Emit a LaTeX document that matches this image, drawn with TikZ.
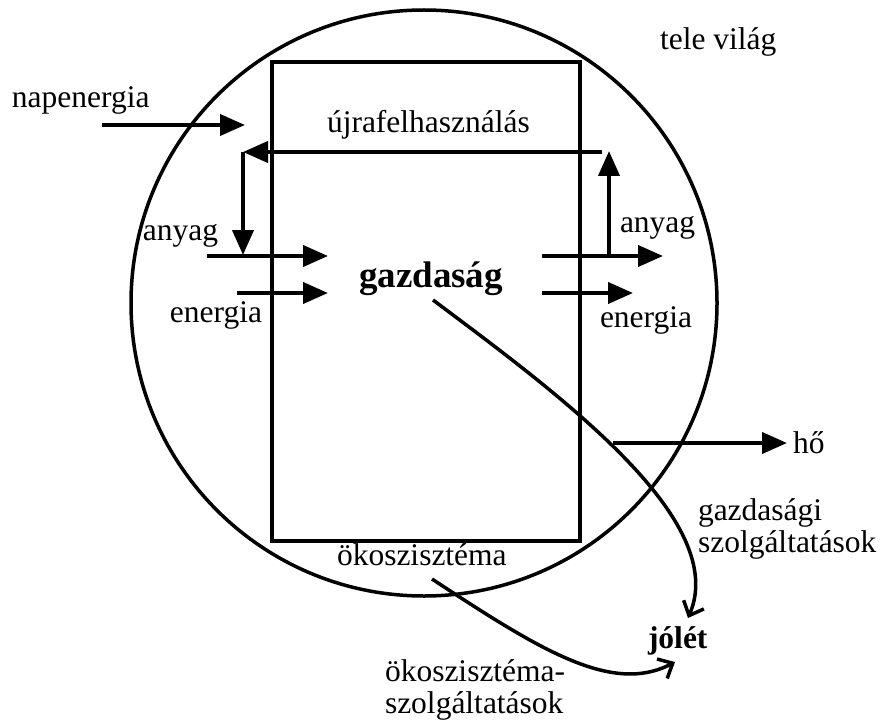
\documentclass[tikz,border=0pt]{standalone}
\usepackage{fontspec}
\setmainfont{Liberation Serif}
\usetikzlibrary{arrows.meta, positioning}

\begin{document}
\begin{tikzpicture}[
    x=1pt, y=-1pt,
    every node/.style={
        inner sep=0pt,
        outer sep=0pt,
        font=\fontsize{31.5}{32}\selectfont
    },
    frame/.style={draw, line width=3.5pt},
    arrow/.style={-{Triangle[length=25pt, width=21pt]}, line width=4pt},
    flow/.style={-{Straight Barb[length=12pt, width=22pt]}, line width=3.5pt}
]
\useasboundingbox (0,0) rectangle (880,722);

% --- World and economy ---
\node[frame, circle, minimum size=586pt] (world) at (424,303) {};
\node[frame, minimum width=308pt, minimum height=479pt] (econ) at (426,301.5) {};

% --- Labels ---
\node[anchor=base west] (tele) at (660,50) {tele világ};
\node[anchor=base west] (napen) at (12,108) {napenergia};
\node[anchor=base west] (ujra) at (327,133) {újrafelhasználás};
\node[anchor=base east] (anyagbe) at (218,240) {anyag};
\node[anchor=base east] (energiabe) at (262,322) {energia};
\node[anchor=base, font=\fontsize{37}{40}\selectfont\bfseries] (gazd) at (431,287) {gazdaság};
\node[anchor=base west] (anyagki) at (620,232) {anyag};
\node[anchor=base west] (energiaki) at (600,327) {energia};
\node[anchor=base west] (ho) at (793,453) {hő};
\node[anchor=base west, align=left] (gszolg) at (698,552) {gazdasági\\szolgáltatások};
\node[anchor=base west] (oko) at (337,565) {ökoszisztéma};
\node[anchor=base west, font=\fontsize{31.5}{32}\selectfont\bfseries] (jolet) at (648,648) {jólét};
\node[anchor=base west, align=left] (okoszolg) at (385,713) {ökoszisztéma-\\szolgáltatások};

% --- Arrow ends ---
\coordinate (sunA) at (102,125);
\coordinate (sunB) at (245,125);
\coordinate (recR) at (602,152);
\coordinate (recL) at (243,152);
\coordinate (recD) at (243,255);
\coordinate (upS) at (609,256);
\coordinate (upT) at (609,151);
\coordinate (inA) at (207,256);
\coordinate (inAt) at (328,256);
\coordinate (inE) at (237,293);
\coordinate (inEt) at (328,293);
\coordinate (outA) at (542,256);
\coordinate (outAt) at (663,256);
\coordinate (outE) at (542,293);
\coordinate (outEt) at (633,293);
\coordinate (heatS) at (613,443);
\coordinate (gStart) at (433,300);
\coordinate (oStart) at (432,579);
\coordinate (jolA) at (688,618);
\coordinate (jolB) at (675,662);

% --- Arrows ---
\draw[arrow] (sunA) -- (sunB);
\draw[arrow] (recR) -- (recL);
\draw[arrow] (recL) -- (recD);
\draw[arrow] (upS) -- (upT);
\draw[arrow] (inA) -- (inAt);
\draw[arrow] (inE) -- (inEt);
\draw[arrow] (outA) -- (outAt);
\draw[arrow] (outE) -- (outEt);
\draw[arrow, shorten >=6pt] (heatS) -- (heatS -| ho.west);

% --- Services ---
\draw[flow] (gStart) .. controls (560,395) and (730,520) .. (jolA);
\draw[flow] (oStart) .. controls (540,650) and (612,695) .. (jolB);

\end{tikzpicture}
\end{document}
